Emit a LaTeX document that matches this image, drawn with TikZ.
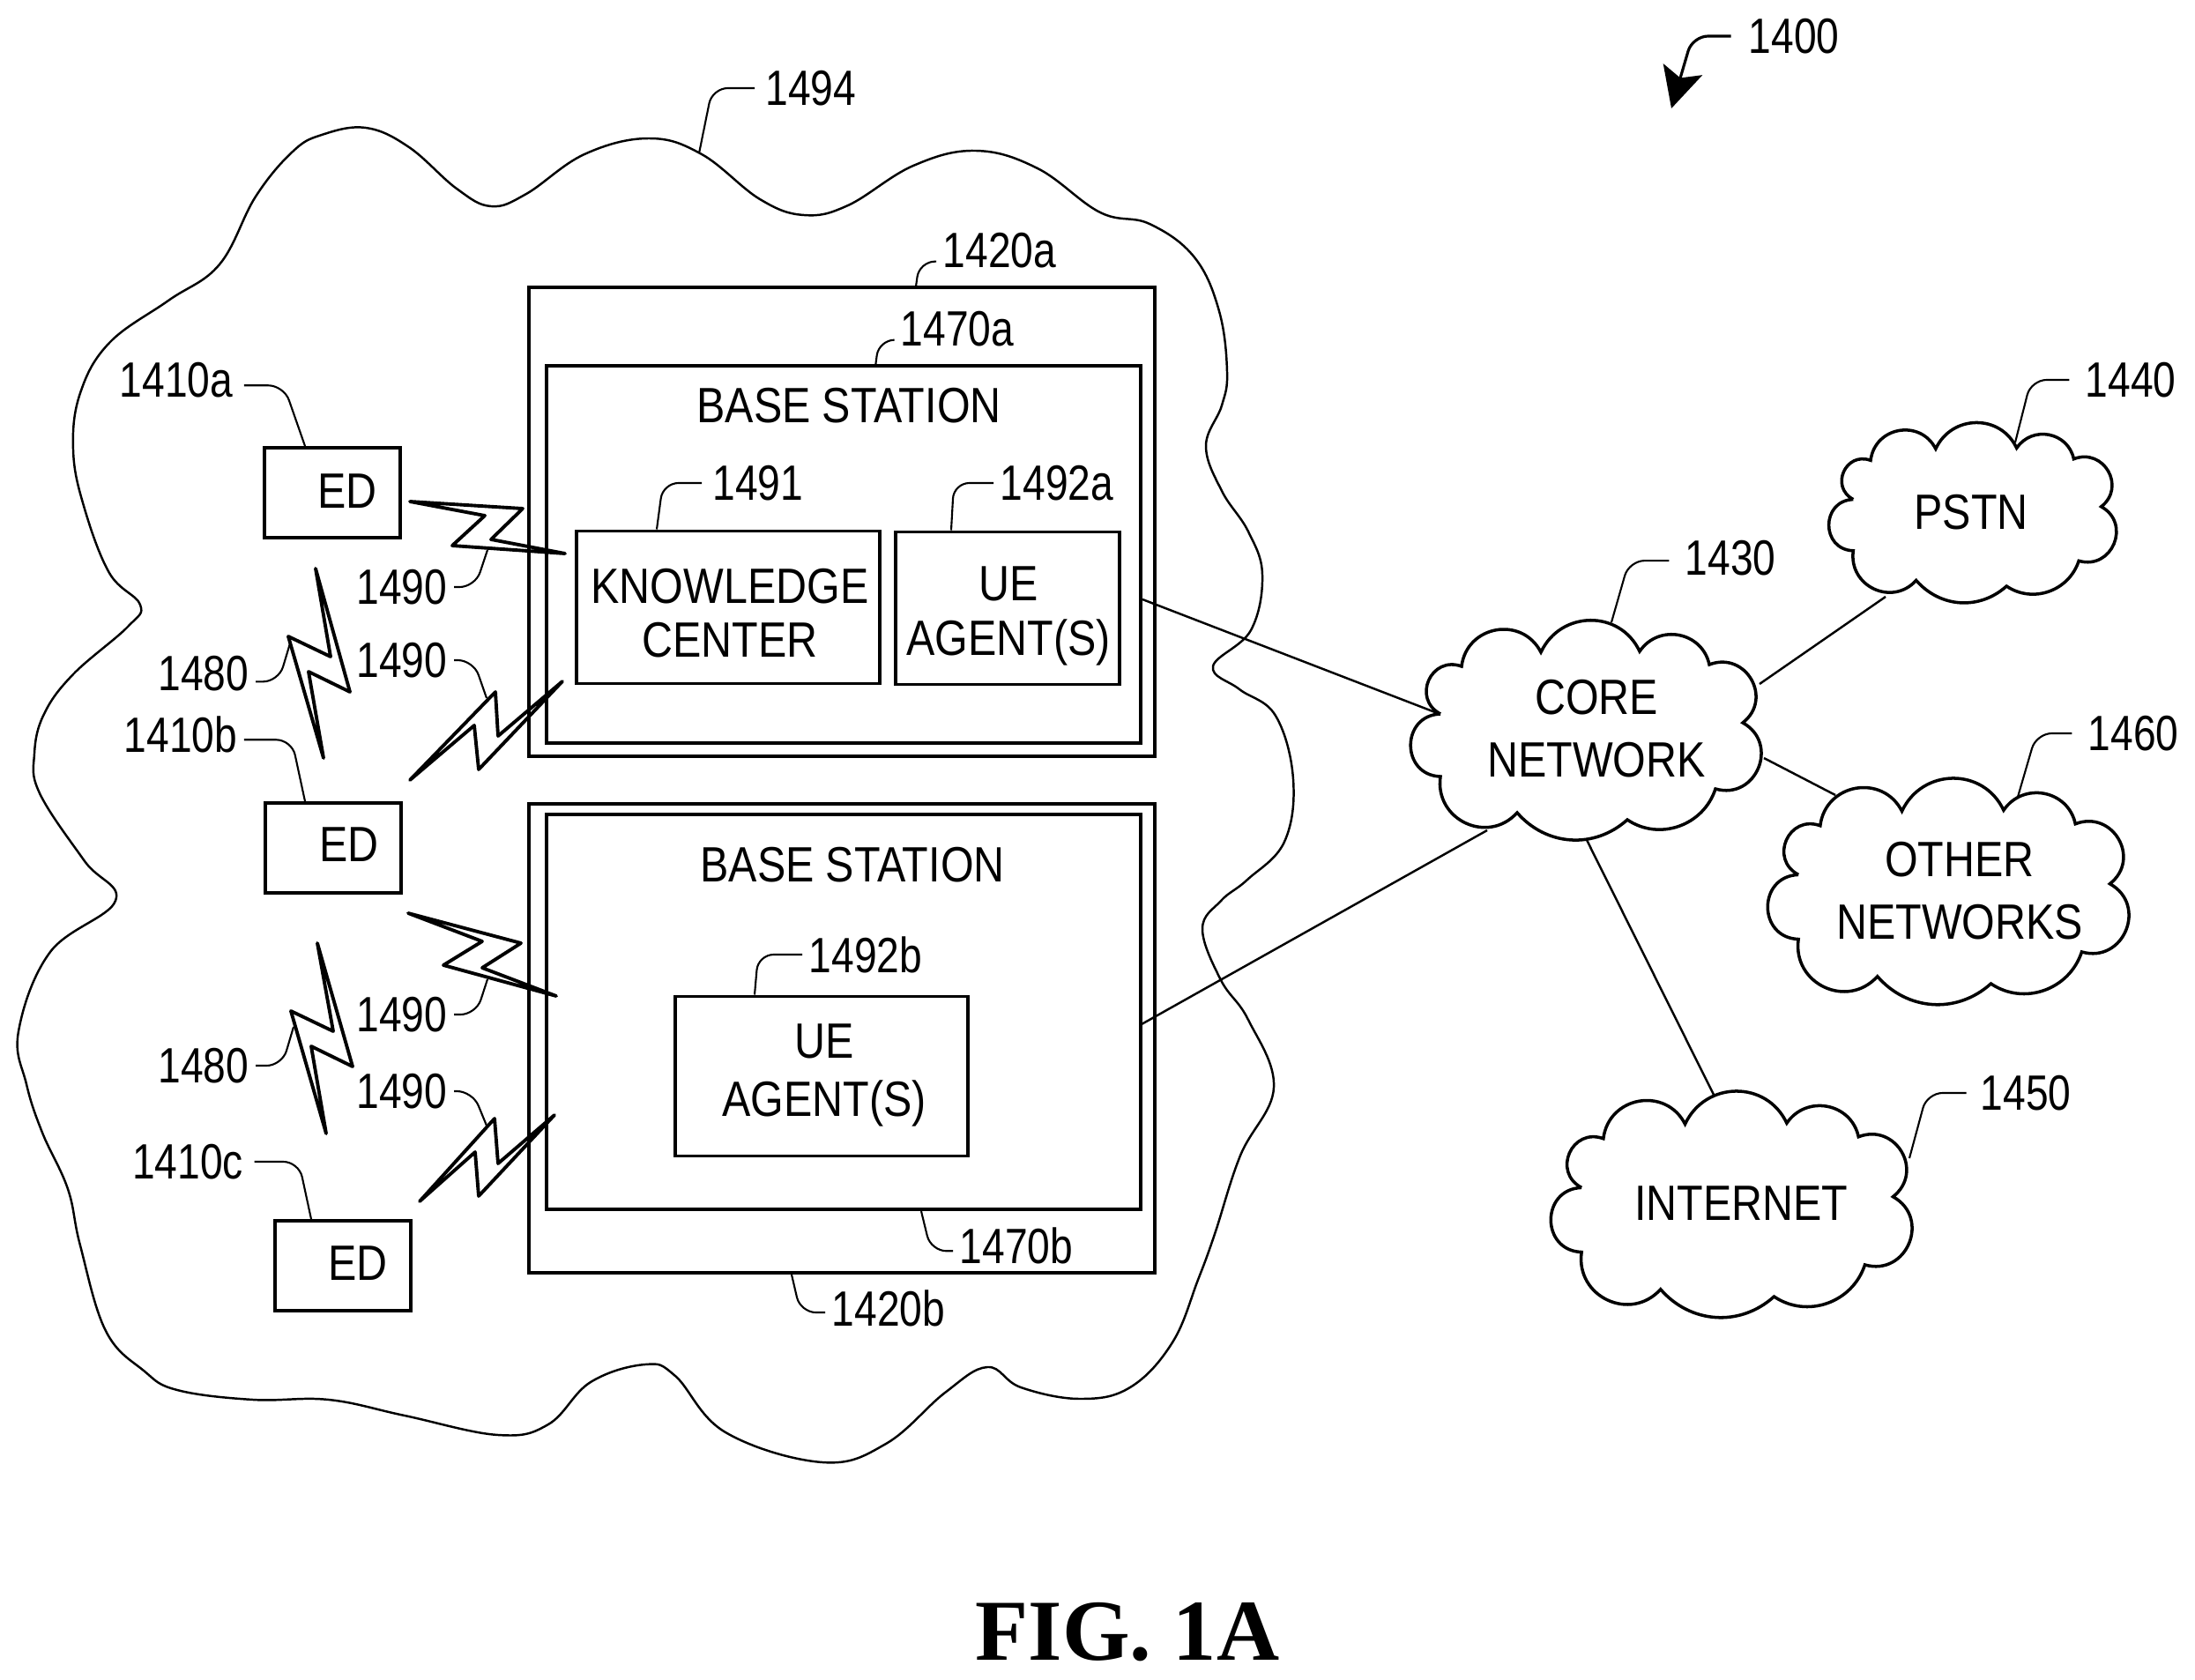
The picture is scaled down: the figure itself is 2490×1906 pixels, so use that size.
\documentclass[tikz,border=0pt]{standalone}
\usepackage{fontspec}
\setmainfont[FakeStretch=0.86]{Liberation Sans}
\newfontfamily\numfont[FakeStretch=0.82]{Liberation Sans}
\newfontfamily\figfont{Liberation Serif}
\usetikzlibrary{arrows.meta}

\tikzset{
  boxnode/.style={draw, line width=1.1pt, inner sep=0pt, rectangle},
  txt/.style={inner sep=0pt, align=center, font=\fontsize{16}{17.4}\selectfont},
  reflabel/.style={inner sep=0pt, outer sep=2.2pt, font=\numfont\fontsize{16}{17.4}\selectfont},
  lead/.style={draw, line width=0.6pt, rounded corners=5pt},
  link/.style={draw, line width=0.7pt},
  bolt/.style={draw, line width=1.1pt, line join=round},
  netcloud/.pic={
    \draw[line width=1pt, line join=miter] (-163,-20)
      to[out=152,in=160,looseness=1.6] (-139,-74)
      to[out=83,in=117,looseness=1.32] (-49,-90)
      to[out=65,in=115,looseness=1.2] (63,-91)
      to[out=56,in=102,looseness=1.22] (142,-76)
      to[out=21,in=38,looseness=1.49] (180,-10)
      to[out=-29,in=-16,looseness=1.52] (149,65)
      to[out=-108,in=-34,looseness=1.06] (49,100)
      to[out=-138,in=-49,looseness=1.03] (-76,92)
      to[out=-132,in=-98,looseness=1.32] (-163,51)
      to[out=178,in=-178,looseness=1.63] (-163,-20);
  }
}

\begin{document}
\begin{tikzpicture}[x=0.01cm, y=-0.01cm]
    \useasboundingbox (0,0) rectangle (2490,1906);

    \draw[line width=0.7pt] plot[smooth cycle, tension=0.65] coordinates {
      (415,145) (464,167) (518,214) (557,234) (597,220) (663,175) (736,157) (796,175)
      (862,226) (912,244) (962,233) (1036,188) (1107,171) (1177,191) (1248,241)
      (1304,254) (1355,292) (1383,353) (1392,422) (1386,460) (1368,506) (1386,557)
      (1416,603) (1432,652) (1419,715) (1376,756) (1406,782) (1447,812) (1467,884)
      (1457,955) (1415,998) (1385,1022) (1364,1054) (1385,1112) (1416,1157) (1445,1234)
      (1407,1311) (1378,1400) (1359,1452) (1330,1523) (1282,1574) (1225,1587) (1158,1574)
      (1120,1551) (1072,1580) (1005,1638) (933,1659) (823,1625) (766,1561) (732,1548)
      (670,1568) (622,1616) (565,1628) (459,1606) (373,1588) (287,1588) (201,1577)
      (163,1555) (120,1510) (91,1413) (77,1349) (48,1285) (30,1230) (21,1170) (57,1080)
      (131,1022) (96,977) (45,900) (39,855) (50,810) (83,765) (145,711) (159,686) (124,650)
      (95,574) (83,510) (91,446) (124,389) (191,341) (249,300) (290,223) (332,172) (365,153)
    };

    \node[boxnode, minimum width=7.10cm, minimum height=5.31cm] (stn1) at (955,592) {};
    \node[boxnode, minimum width=6.74cm, minimum height=4.27cm] (bs1) at (957,629) {};
    \node[boxnode, minimum width=3.43cm, minimum height=1.73cm] (kc) at (826,689) {};
    \node[boxnode, minimum width=2.54cm, minimum height=1.73cm] (ua1) at (1143,690) {};
    \node[boxnode, minimum width=7.09cm, minimum height=5.32cm] (stn2) at (955,1178) {};
    \node[boxnode, minimum width=6.74cm, minimum height=4.48cm] (bs2) at (957,1148) {};
    \node[boxnode, minimum width=3.31cm, minimum height=1.81cm] (ua2) at (932,1221) {};
    \node[boxnode, minimum width=1.54cm, minimum height=1.02cm] (ed1) at (377,559) {};
    \node[boxnode, minimum width=1.54cm, minimum height=1.02cm] (ed2) at (378,962) {};
    \node[boxnode, minimum width=1.54cm, minimum height=1.02cm] (ed3) at (389,1436) {};

    \node[txt] (t1) at (963,460) {BASE STATION};
    \node[txt] (t2) at (967,981) {BASE STATION};
    \node[txt] (t3) at (828,696) {KNOWLEDGE\\CENTER};
    \node[txt] (t4) at (1144,699) {UE\\AGENT(S)};
    \node[txt] (t5) at (935,1220) {UE\\[1.4pt]AGENT(S)};
    \node[txt] (t6) at (394,557) {ED};
    \node[txt] (t7) at (396,958) {ED};
    \node[txt] (t8) at (406,1433) {ED};

    \pic at (1797,830) {netcloud};
    \pic[scale=0.82] at (2236,583) {netcloud};
    \pic[scale=1.03] at (2208,1013) {netcloud};
    \pic[scale=1.03] at (1962,1368) {netcloud};
    \node[txt] (core) at (1811,827) {CORE\\[2.8pt]NETWORK};
    \node[txt] (pstn) at (2236,581) {PSTN};
    \node[txt] (other) at (2223,1011) {OTHER\\[2.8pt]NETWORKS};
    \node[txt] (inet) at (1975,1365) {INTERNET};

    \coordinate (bs1r) at (1296,680);
    \coordinate (bs2r) at (1295,1162);
    \coordinate (coreW) at (1633,810);
    \coordinate (coreSW) at (1687,942);
    \coordinate (coreS) at (1800,953);
    \coordinate (coreNE) at (1996,776);
    \coordinate (coreE) at (2001,860);
    \coordinate (pstnS) at (2139,677);
    \coordinate (otherW) at (2082,902);
    \coordinate (inetN) at (1944,1242);
    \draw[link] (bs1r) -- (coreW);
    \draw[link] (bs2r) -- (coreSW);
    \draw[link] (coreS) -- (inetN);
    \draw[link] (coreNE) -- (pstnS);
    \draw[link] (coreE) -- (otherW);

    \draw[bolt] (465,569) -- (593,577) -- (557,612) -- (641,628) -- (513,619) -- (550,585) -- cycle;
    \draw[bolt] (358,645) -- (397,785) -- (350,762) -- (367,860) -- (327,722) -- (375,745) -- cycle;
    \draw[bolt] (465,885) -- (562,785) -- (565,835) -- (638,773) -- (543,873) -- (538,823) -- cycle;
    \draw[bolt] (463,1036) -- (591,1070) -- (547,1098) -- (631,1130) -- (503,1095) -- (547,1068) -- cycle;
    \draw[bolt] (360,1070) -- (400,1210) -- (353,1187) -- (370,1286) -- (330,1147) -- (378,1170) -- cycle;
    \draw[bolt] (476,1363) -- (561,1269) -- (565,1320) -- (629,1265) -- (543,1357) -- (539,1307) -- cycle;

    \foreach \nm/\x/\y/\txt in {
      1400/2035/41/1400, 1494/920/100/1494, 1420a/1134/284/1420a, 1470a/1086/373/1470a,
      1410a/200/431/1410a, 1491/860/548/1491, 1492a/1199/548/1492a, 1490a/456/666/1490,
      1490b/456/749/1490, 1480a/231/764/1480, 1410b/205/833/1410b, 1490c/456/1151/1490,
      1490d/456/1238/1490, 1480b/231/1209/1480, 1410c/213/1318/1410c, 1492b/982/1083/1492b,
      1470b/1153/1413/1470b, 1420b/1008/1484/1420b, 1430/1963/633/1430, 1440/2417/431/1440,
      1460/2420/832/1460, 1450/2298/1240/1450} {
      \node[reflabel] (l\nm) at (\x,\y) {\txt};
    }

    \foreach \nm/\x/\y in {
      1494/793/174, 1420a/1039/325, 1470a/993/416, 1490a/553/624, 1490b/552/792,
      1480a/329/730, 1480b/333/1165, 1490c/553/1111, 1490d/552/1277, 1430/1828/706,
      1440/2286/502, 1460/2289/904, 1450/2166/1314} {
      \coordinate (c\nm) at (\x,\y);
    }
    \coordinate (c1410a) at (346,0 |- ed1.north);
    \coordinate (c1410b) at (346,0 |- ed2.north);
    \coordinate (c1410c) at (353,0 |- ed3.north);
    \coordinate (c1491) at (745,0 |- kc.north);
    \coordinate (c1492a) at (1079,0 |- ua1.north);
    \coordinate (c1492b) at (856,0 |- ua2.north);
    \coordinate (c1470b) at (1045,0 |- bs2.south);
    \coordinate (c1420b) at (898,0 |- stn2.south);

    \foreach \nm/\side/\ex/\gp in {
      1494/180/808/-1.4, 1420a/190/1043/0, 1470a/190/997/0, 1410a/355/322/1.4, 1491/180/752/-1.4,
      1492a/180/1082/0, 1490a/0/539/0, 1490b/0/537/0, 1480a/351/316/0, 1410b/355/331/0,
      1490c/0/540/0, 1490d/0/536/0, 1480b/0/320/0, 1410c/0/339/1.4, 1492b/180/860/0,
      1470b/185/1056/0, 1420b/184/908/0, 1430/183/1848/-3, 1440/180/2304/-3, 1460/180/2310/-3,
      1450/180/2186/-2.4} {
      \draw[lead] ([xshift=\gp pt]l\nm.\side) -- (\ex,0 |- l\nm.\side) -- (c\nm);
    }

    \coordinate (arrowtip) at (1896,123);
    \draw[lead, line width=0.9pt, -{Stealth[length=4.6mm, width=4.6mm, inset=1mm]}] ([xshift=-3.5pt]l1400.180) -- (1920,0 |- l1400.180) -- (arrowtip);

    \node[inner sep=0pt, font=\figfont\bfseries\fontsize{28}{30}\selectfont] (figname) at (1279,1852) {FIG. 1A};
\end{tikzpicture}
\end{document}
